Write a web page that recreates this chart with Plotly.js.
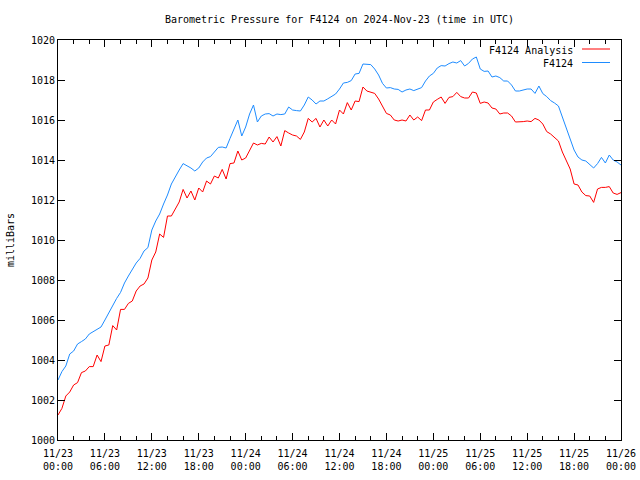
<!DOCTYPE html>
<html>
<head>
<meta charset="utf-8">
<script src="https://cdn.plot.ly/plotly-3.0.1.min.js"></script>
<style>html,body{margin:0;padding:0;background:#fff;}#chart{width:640px;height:480px;}</style>
</head>
<body>
<div id="chart"></div>
<script>
const times = [
"2024-11-23 00:00","2024-11-23 00:30","2024-11-23 01:00","2024-11-23 01:30","2024-11-23 02:00","2024-11-23 02:30",
"2024-11-23 03:00","2024-11-23 03:30","2024-11-23 04:00","2024-11-23 04:30","2024-11-23 05:00","2024-11-23 05:30",
"2024-11-23 06:00","2024-11-23 06:30","2024-11-23 07:00","2024-11-23 07:30","2024-11-23 08:00","2024-11-23 08:30",
"2024-11-23 09:00","2024-11-23 09:30","2024-11-23 10:00","2024-11-23 10:30","2024-11-23 11:00","2024-11-23 11:30",
"2024-11-23 12:00","2024-11-23 12:30","2024-11-23 13:00","2024-11-23 13:30","2024-11-23 14:00","2024-11-23 14:30",
"2024-11-23 15:00","2024-11-23 15:30","2024-11-23 16:00","2024-11-23 16:30","2024-11-23 17:00","2024-11-23 17:30",
"2024-11-23 18:00","2024-11-23 18:30","2024-11-23 19:00","2024-11-23 19:30","2024-11-23 20:00","2024-11-23 20:30",
"2024-11-23 21:00","2024-11-23 21:30","2024-11-23 22:00","2024-11-23 22:30","2024-11-23 23:00","2024-11-23 23:30",
"2024-11-24 00:00","2024-11-24 00:30","2024-11-24 01:00","2024-11-24 01:30","2024-11-24 02:00","2024-11-24 02:30",
"2024-11-24 03:00","2024-11-24 03:30","2024-11-24 04:00","2024-11-24 04:30","2024-11-24 05:00","2024-11-24 05:30",
"2024-11-24 06:00","2024-11-24 06:30","2024-11-24 07:00","2024-11-24 07:30","2024-11-24 08:00","2024-11-24 08:30",
"2024-11-24 09:00","2024-11-24 09:30","2024-11-24 10:00","2024-11-24 10:30","2024-11-24 11:00","2024-11-24 11:30",
"2024-11-24 12:00","2024-11-24 12:30","2024-11-24 13:00","2024-11-24 13:30","2024-11-24 14:00","2024-11-24 14:30",
"2024-11-24 15:00","2024-11-24 15:30","2024-11-24 16:00","2024-11-24 16:30","2024-11-24 17:00","2024-11-24 17:30",
"2024-11-24 18:00","2024-11-24 18:30","2024-11-24 19:00","2024-11-24 19:30","2024-11-24 20:00","2024-11-24 20:30",
"2024-11-24 21:00","2024-11-24 21:30","2024-11-24 22:00","2024-11-24 22:30","2024-11-24 23:00","2024-11-24 23:30",
"2024-11-25 00:00","2024-11-25 00:30","2024-11-25 01:00","2024-11-25 01:30","2024-11-25 02:00","2024-11-25 02:30",
"2024-11-25 03:00","2024-11-25 03:30","2024-11-25 04:00","2024-11-25 04:30","2024-11-25 05:00","2024-11-25 05:30",
"2024-11-25 06:00","2024-11-25 06:30","2024-11-25 07:00","2024-11-25 07:30","2024-11-25 08:00","2024-11-25 08:30",
"2024-11-25 09:00","2024-11-25 09:30","2024-11-25 10:00","2024-11-25 10:30","2024-11-25 11:00","2024-11-25 11:30",
"2024-11-25 12:00","2024-11-25 12:30","2024-11-25 13:00","2024-11-25 13:30","2024-11-25 14:00","2024-11-25 14:30",
"2024-11-25 15:00","2024-11-25 15:30","2024-11-25 16:00","2024-11-25 16:30","2024-11-25 17:00","2024-11-25 17:30",
"2024-11-25 18:00","2024-11-25 18:30","2024-11-25 19:00","2024-11-25 19:30","2024-11-25 20:00","2024-11-25 20:30",
"2024-11-25 21:00","2024-11-25 21:30","2024-11-25 22:00","2024-11-25 22:30","2024-11-25 23:00","2024-11-25 23:30",
"2024-11-26 00:00"
];

const analysis = [
1001.25,1001.58,1002.2,1002.4,1002.75,1002.87,1003.37,1003.45,1003.67,1003.67,1004.25,1003.92,
1004.7,1004.75,1005.72,1005.5,1006.53,1006.53,1006.83,1006.95,1007.45,1007.7,1007.8,1008.1,
1009.0,1009.4,1010.3,1010.13,1011.2,1011.2,1011.55,1011.9,1012.53,1012.1,1012.45,1012.0,
1012.6,1012.4,1012.95,1012.8,1013.2,1013.1,1013.53,1013.05,1013.82,1013.85,1014.45,1014.0,
1014.1,1014.5,1014.85,1014.75,1014.83,1014.8,1015.15,1014.9,1015.17,1014.7,1015.47,1015.35,
1015.25,1015.2,1015.03,1015.4,1016.08,1015.9,1016.08,1015.65,1016.0,1015.7,1016.0,1015.8,
1016.5,1016.3,1016.87,1016.5,1016.95,1016.92,1017.65,1017.45,1017.4,1017.33,1017.05,1016.72,
1016.33,1016.25,1016.0,1015.95,1016.0,1015.95,1016.25,1016.0,1016.15,1015.97,1016.5,1016.5,
1016.9,1017.03,1017.15,1016.83,1017.13,1017.17,1017.38,1017.17,1017.1,1017.1,1017.4,1017.35,
1016.83,1016.9,1016.85,1016.6,1016.55,1016.3,1016.35,1016.35,1016.2,1015.9,1015.9,1015.92,
1015.95,1015.92,1016.08,1016.0,1015.8,1015.42,1015.3,1015.1,1014.95,1014.4,1014.0,1013.55,
1012.8,1012.75,1012.4,1012.22,1012.2,1011.88,1012.55,1012.63,1012.63,1012.67,1012.35,1012.28,
1012.37
];

const observed = [
1003.0,1003.42,1003.7,1004.3,1004.45,1004.8,1004.92,1005.05,1005.3,1005.42,1005.55,1005.65,
1006.0,1006.38,1006.78,1007.08,1007.38,1007.85,1008.2,1008.55,1008.85,1009.08,1009.45,1009.62,
1010.5,1010.95,1011.3,1011.8,1012.25,1012.8,1013.17,1013.5,1013.82,1013.72,1013.6,1013.45,
1013.6,1013.9,1014.1,1014.17,1014.4,1014.63,1014.65,1014.6,1015.08,1015.52,1016.0,1015.2,
1015.65,1016.3,1016.75,1015.9,1016.2,1016.3,1016.32,1016.2,1016.3,1016.27,1016.3,1016.65,
1016.5,1016.47,1016.45,1016.75,1017.15,1017.0,1016.8,1016.95,1016.95,1017.06,1017.2,1017.3,
1017.55,1017.85,1017.88,1017.97,1018.3,1018.33,1018.8,1018.77,1018.77,1018.55,1018.25,1017.83,
1017.6,1017.62,1017.55,1017.53,1017.4,1017.5,1017.55,1017.47,1017.53,1017.62,1017.95,1018.2,
1018.33,1018.6,1018.72,1018.7,1018.82,1018.9,1018.85,1018.97,1018.7,1018.83,1019.05,1019.15,
1018.55,1018.43,1018.45,1018.15,1018.2,1018.12,1017.95,1017.95,1017.75,1017.45,1017.45,1017.5,
1017.55,1017.55,1017.33,1017.7,1017.32,1017.17,1016.97,1016.85,1016.7,1016.15,1015.6,1015.0,
1014.5,1014.15,1014.0,1013.95,1013.77,1013.6,1013.82,1014.13,1013.85,1014.25,1014.0,1013.9,
1013.75
];

const seriesNames = ["F4124 Analysis", "F4124"];
const xTickVals = ["2024-11-23 00:00","2024-11-23 06:00","2024-11-23 12:00","2024-11-23 18:00",
  "2024-11-24 00:00","2024-11-24 06:00","2024-11-24 12:00","2024-11-24 18:00",
  "2024-11-25 00:00","2024-11-25 06:00","2024-11-25 12:00","2024-11-25 18:00","2024-11-26 00:00"];
const xTickText = ["11/23<br>00:00","11/23<br>06:00","11/23<br>12:00","11/23<br>18:00",
  "11/24<br>00:00","11/24<br>06:00","11/24<br>12:00","11/24<br>18:00",
  "11/25<br>00:00","11/25<br>06:00","11/25<br>12:00","11/25<br>18:00","11/26<br>00:00"];
const yTickVals = [1000,1002,1004,1006,1008,1010,1012,1014,1016,1018,1020];

const RED = "#ff0000";
const BLUE = "#1e8cff";
const FONT = "DejaVu Sans Mono, Liberation Mono, monospace";

const traces = [
  {x: times, y: analysis, name: seriesNames[0], type: "scatter", mode: "lines",
   line: {color: RED, width: 1}, showlegend: false},
  {x: times, y: observed, name: seriesNames[1], type: "scatter", mode: "lines",
   line: {color: BLUE, width: 1}, showlegend: false}
];

const layout = {
  width: 640, height: 480,
  margin: {l: 58, r: 19, t: 40, b: 40},
  paper_bgcolor: "#ffffff", plot_bgcolor: "#ffffff",
  font: {family: FONT, size: 10, color: "#000"},
  title: {text: "Barometric Pressure for F4124 on 2024-Nov-23 (time in UTC)",
          xref: "paper", x: 0.5, xanchor: "center", yref: "container", y: 1 - 19/480, yanchor: "middle",
          font: {family: FONT, size: 10, color: "#000"}},
  xaxis: {type: "date", range: ["2024-11-23 00:00", "2024-11-26 00:00"],
          tickmode: "array", tickvals: xTickVals, ticktext: xTickText,
          ticks: "inside", ticklen: 7, tickwidth: 1, tickcolor: "#000", ticklabelstandoff: 4,
          minor: {dtick: 7200000, ticks: "inside", ticklen: 4, tickwidth: 1, tickcolor: "#000", showgrid: false},
          showline: true, linecolor: "#000", linewidth: 1, mirror: "ticks",
          showgrid: false, zeroline: false, fixedrange: true,
          tickfont: {family: FONT, size: 10, color: "#000"}},
  yaxis: {range: [1000, 1020], tickmode: "array", tickvals: yTickVals,
          ticks: "inside", ticklen: 7, tickwidth: 1, tickcolor: "#000",
          showline: true, linecolor: "#000", linewidth: 1, mirror: "ticks",
          showgrid: false, zeroline: false, fixedrange: true,
          tickfont: {family: FONT, size: 10, color: "#000"},
          title: {text: "milliBars", standoff: 14, font: {family: FONT, size: 10, color: "#000"}}},
  annotations: [
    {xref: "paper", yref: "paper", x: (575 - 58) / 563, y: (440 - 50) / 400, xanchor: "right", yanchor: "middle",
     text: seriesNames[0], showarrow: false, font: {family: FONT, size: 10, color: "#000"}},
    {xref: "paper", yref: "paper", x: (575 - 58) / 563, y: (440 - 63) / 400, xanchor: "right", yanchor: "middle",
     text: seriesNames[1], showarrow: false, font: {family: FONT, size: 10, color: "#000"}}
  ],
  shapes: [
    {type: "line", xref: "paper", yref: "paper", x0: (582 - 58) / 563, x1: (610 - 58) / 563,
     y0: (440 - 49) / 400, y1: (440 - 49) / 400, line: {color: RED, width: 1}},
    {type: "line", xref: "paper", yref: "paper", x0: (582 - 58) / 563, x1: (610 - 58) / 563,
     y0: (440 - 62.5) / 400, y1: (440 - 62.5) / 400, line: {color: BLUE, width: 1}}
  ]
};

Plotly.newPlot("chart", traces, layout, {displayModeBar: false, staticPlot: true});
</script>
</body>
</html>
